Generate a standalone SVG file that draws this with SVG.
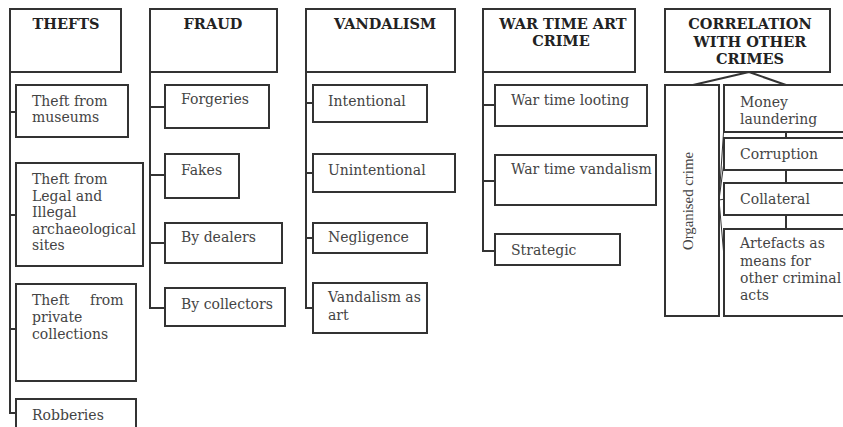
<svg xmlns="http://www.w3.org/2000/svg" width="843" height="427" viewBox="0 0 843 427">
<style>
.box{fill:#fff;stroke:#333;stroke-width:2}
.ln{fill:none;stroke:#333;stroke-width:2}
.thin{fill:none;stroke:#333;stroke-width:1}
.h{font-family:"DejaVu Serif","Liberation Serif",serif;font-weight:bold;font-size:14.5px;fill:#222;text-anchor:middle}
.t{font-family:"DejaVu Serif","Liberation Serif",serif;font-size:14px;fill:#444}
.r{font-family:"Liberation Serif",serif;font-size:15px;fill:#444;text-anchor:middle}
</style>
<rect width="843" height="427" fill="#fff"/>
<g id="connectors">
<path class="ln" d="M10,72 V413 H16 M10,112 H16 M10,215 H16 M10,329 H16"/>
<path class="ln" d="M150,72 V308 H165 M150,107 H165 M150,175 H165 M150,243 H165"/>
<path class="ln" d="M306,72 V308 H313 M306,103 H313 M306,173 H313 M306,238 H313"/>
<path class="ln" d="M483,63 V251 H495 M483,105 H495 M483,181 H495"/>
<path class="ln" d="M749,72 L693,85 M749,72 L786,85 M786,132 V138 M786,170 V183 M786,215 V229"/>
<path class="thin" d="M719,200 L725,110 M719,200 L725,154 M719,200 L725,199 M719,200 L725,268"/>
</g>
<g id="thefts"><rect class="box" x="10" y="9" width="111" height="63"/><text class="h" x="66" y="29">THEFTS</text></g>
<g id="theft-museums"><rect class="box" x="16" y="85" width="112" height="52"/><text class="t" x="32" y="106">Theft from</text><text class="t" x="32" y="122">museums</text></g>
<g id="theft-sites"><rect class="box" x="16" y="163" width="127" height="103"/><text class="t" x="32" y="184">Theft from</text><text class="t" x="32" y="201">Legal and</text><text class="t" x="32" y="217">Illegal</text><text class="t" x="32" y="234">archaeological</text><text class="t" x="32" y="250">sites</text></g>
<g id="theft-private"><rect class="box" x="16" y="284" width="120" height="97"/><text class="t" x="32" y="305">Theft</text><text class="t" x="90" y="305">from</text><text class="t" x="32" y="322">private</text><text class="t" x="32" y="339">collections</text></g>
<g id="robberies"><rect class="box" x="16" y="399" width="120" height="40"/><text class="t" x="32" y="420">Robberies</text></g>
<g id="fraud"><rect class="box" x="150" y="9" width="127" height="63"/><text class="h" x="213" y="29">FRAUD</text></g>
<g id="forgeries"><rect class="box" x="165" y="85" width="104" height="43"/><text class="t" x="181" y="104">Forgeries</text></g>
<g id="fakes"><rect class="box" x="165" y="154" width="74" height="44"/><text class="t" x="181" y="175">Fakes</text></g>
<g id="by-dealers"><rect class="box" x="165" y="223" width="117" height="40"/><text class="t" x="181" y="242">By dealers</text></g>
<g id="by-collectors"><rect class="box" x="165" y="288" width="120" height="38"/><text class="t" x="181" y="309">By collectors</text></g>
<g id="vandalism"><rect class="box" x="306" y="9" width="149" height="63"/><text class="h" x="385" y="29">VANDALISM</text></g>
<g id="intentional"><rect class="box" x="313" y="85" width="114" height="37"/><text class="t" x="328" y="106">Intentional</text></g>
<g id="unintentional"><rect class="box" x="313" y="154" width="142" height="38"/><text class="t" x="328" y="175">Unintentional</text></g>
<g id="negligence"><rect class="box" x="313" y="223" width="114" height="30"/><text class="t" x="328" y="242">Negligence</text></g>
<g id="vandalism-art"><rect class="box" x="313" y="283" width="114" height="50"/><text class="t" x="328" y="302">Vandalism as</text><text class="t" x="328" y="320">art</text></g>
<g id="war-time"><rect class="box" x="483" y="9" width="152" height="63"/><text class="h" x="563" y="29">WAR TIME ART</text><text class="h" x="561" y="46">CRIME</text></g>
<g id="looting"><rect class="box" x="495" y="85" width="152" height="41"/><text class="t" x="511" y="105">War time looting</text></g>
<g id="war-vandalism"><rect class="box" x="495" y="155" width="161" height="50"/><text class="t" x="511" y="174">War time vandalism</text></g>
<g id="strategic"><rect class="box" x="495" y="234" width="125" height="31"/><text class="t" x="511" y="255">Strategic</text></g>
<g id="correlation"><rect class="box" x="665" y="9" width="165" height="63"/><text class="h" x="750" y="29">CORRELATION</text><text class="h" x="750" y="47">WITH OTHER</text><text class="h" x="750" y="64">CRIMES</text></g>
<g id="organised"><rect class="box" x="665" y="85" width="54" height="231"/><text class="r" transform="translate(693,201) rotate(-90)" textLength="98" lengthAdjust="spacingAndGlyphs">Organised crime</text></g>
<g id="money"><rect class="box" x="724" y="85" width="130" height="47"/><text class="t" x="740" y="107">Money</text><text class="t" x="740" y="124">laundering</text></g>
<g id="corruption"><rect class="box" x="724" y="138" width="130" height="32"/><text class="t" x="740" y="159">Corruption</text></g>
<g id="collateral"><rect class="box" x="724" y="183" width="130" height="32"/><text class="t" x="740" y="204">Collateral</text></g>
<g id="artefacts"><rect class="box" x="724" y="229" width="130" height="87"/><text class="t" x="740" y="248">Artefacts as</text><text class="t" x="740" y="266">means for</text><text class="t" x="740" y="283">other criminal</text><text class="t" x="740" y="300">acts</text></g>
</svg>
